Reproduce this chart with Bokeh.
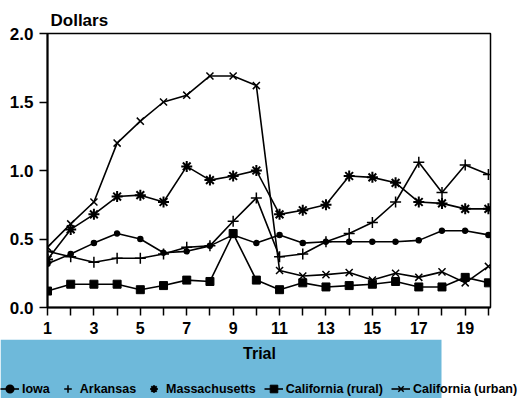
from bokeh.plotting import figure
from bokeh.layouts import column
from bokeh.models import (FixedTicker, PrintfTickFormatter, Legend, LegendItem,
                          Label, BoxAnnotation, Range1d, Title)
from bokeh.embed import file_html
from bokeh.resources import INLINE

trials = list(range(1, 21))
x_ticks = [1, 3, 5, 7, 9, 11, 13, 15, 17, 19]
x_minor = [2, 4, 6, 8, 10, 12, 14, 16, 18, 20]
y_ticks = [0.0, 0.5, 1.0, 1.5, 2.0]

iowa = [0.32, 0.39, 0.47, 0.54, 0.50, 0.40, 0.41, 0.45, 0.53, 0.47,
        0.53, 0.47, 0.48, 0.48, 0.48, 0.48, 0.49, 0.56, 0.56, 0.53]
arkansas = [0.41, 0.37, 0.33, 0.36, 0.36, 0.39, 0.44, 0.45, 0.63, 0.80,
            0.37, 0.39, 0.48, 0.54, 0.62, 0.77, 1.06, 0.84, 1.04, 0.97]
massachusetts = [0.35, 0.57, 0.68, 0.81, 0.82, 0.77, 1.03, 0.93, 0.96, 1.00,
                 0.68, 0.71, 0.75, 0.96, 0.95, 0.91, 0.77, 0.76, 0.72, 0.72]
ca_rural = [0.12, 0.17, 0.17, 0.17, 0.13, 0.16, 0.20, 0.19, 0.54, 0.20,
            0.13, 0.18, 0.15, 0.16, 0.17, 0.19, 0.15, 0.15, 0.22, 0.18]
ca_urban = [0.44, 0.61, 0.77, 1.20, 1.36, 1.50, 1.55, 1.69, 1.69, 1.62,
            0.27, 0.23, 0.24, 0.255, 0.20, 0.25, 0.22, 0.26, 0.18, 0.30]

FONT = "Liberation Sans"

series = [
    ("Iowa", iowa, "circle", 5, 1.5, True),
    ("Arkansas", arkansas, "cross", 11, 1.5, False),
    ("Massachusetts", massachusetts, "asterisk", 11, 2.0, False),
    ("California (rural)", ca_rural, "square", 8, 1.0, True),
    ("California (urban)", ca_urban, "x", 10, 1.5, True),
]

# ---------------- main chart ----------------
p = figure(width=524, height=339, output_backend="svg", toolbar_location=None,
           x_range=Range1d(1, 20.09), y_range=Range1d(0, 2.0),
           min_border_left=47, min_border_right=34, min_border_top=33,
           min_border_bottom=32)
p.frame_align = False
p.xgrid.visible = False
p.ygrid.visible = False
p.outline_line_color = "black"
p.outline_line_width = 1.5
p.background_fill_color = "white"
p.border_fill_color = "white"

p.title = Title(text="Dollars", align="left", offset=3, standoff=8,
                text_font=FONT, text_font_style="bold",
                text_font_size="17px", text_color="black")

for name, vals, marker, size, mlw, _ in series:
    p.line(trials, vals, line_color="black", line_width=1.6)
    p.scatter(trials, vals, marker=marker, size=size, line_color="black",
              fill_color="black", line_width=mlw)

xa = p.xaxis[0]
xa.ticker = FixedTicker(ticks=x_ticks, minor_ticks=x_minor)
xa.axis_line_width = 2
xa.major_tick_line_width = 1.5
xa.minor_tick_line_width = 1.5
xa.major_tick_out = 8
xa.major_tick_in = 0
xa.minor_tick_out = 8
xa.minor_tick_in = 0
xa.major_label_standoff = 6
xa.major_label_text_font = FONT
xa.major_label_text_font_style = "bold"
xa.major_label_text_font_size = "16px"
xa.major_label_text_color = "black"

ya = p.yaxis[0]
ya.ticker = FixedTicker(ticks=y_ticks)
ya.formatter = PrintfTickFormatter(format="%.1f")
ya.axis_line_width = 2
ya.major_tick_line_width = 1.5
ya.major_tick_out = 8
ya.major_tick_in = 0
ya.minor_tick_line_color = None
ya.major_label_standoff = 6
ya.major_label_text_font = FONT
ya.major_label_text_font_style = "bold"
ya.major_label_text_font_size = "17px"
ya.major_label_text_color = "black"

# ---------------- axis title + legend strip ----------------
p2 = figure(width=524, height=59, output_backend="svg", toolbar_location=None,
            x_range=Range1d(0, 524), y_range=Range1d(0, 59),
            x_axis_type=None, y_axis_type=None,
            min_border_left=0, min_border_right=0, min_border_top=0,
            min_border_bottom=0)
p2.frame_align = False
p2.xgrid.visible = False
p2.ygrid.visible = False
p2.outline_line_color = None
p2.background_fill_color = "white"
p2.border_fill_color = "white"
# legend-key renderers carry the series data on a range that keeps them off-view
p2.extra_x_ranges = {"key": Range1d(100, 200)}
p2.extra_y_ranges = {"key": Range1d(100, 200)}

band = BoxAnnotation(left=0, right=441, top=59, bottom=0,
                     left_units="screen", right_units="screen",
                     top_units="screen", bottom_units="screen",
                     fill_color="#6eb9da", fill_alpha=1.0, line_color=None,
                     level="underlay")
p2.add_layout(band)

p2.add_layout(Label(x=259, y=45, x_units="screen", y_units="screen",
                    text="Trial", text_font=FONT, text_font_style="bold",
                    text_font_size="16px", text_baseline="middle",
                    text_align="center", text_color="black"))

items = []
for name, vals, marker, size, mlw, line_in_legend in series:
    ln = p2.line(trials, vals, line_color="black", line_width=1.6,
                 x_range_name="key", y_range_name="key")
    sc = p2.scatter(trials, vals, marker=marker, size=size,
                    line_color="black", fill_color="black", line_width=mlw,
                    x_range_name="key", y_range_name="key")
    items.append(LegendItem(label=name,
                            renderers=[ln, sc] if line_in_legend else [sc]))

legend = Legend(items=items, orientation="horizontal", location=(0, 0),
                spacing=8, glyph_width=19, glyph_height=19, label_height=19,
                label_standoff=3, padding=0, margin=0,
                label_text_font=FONT, label_text_font_style="bold",
                label_text_font_size="12.5px", label_text_color="black",
                border_line_color=None, background_fill_alpha=0)
p2.add_layout(legend)

layout = column(p, p2, spacing=0)
open("out.html", "w").write(file_html(layout, INLINE))
